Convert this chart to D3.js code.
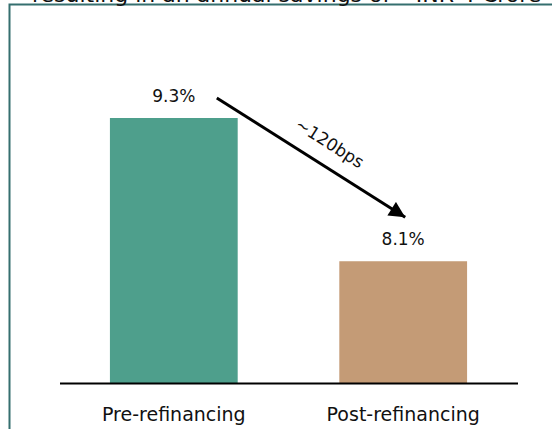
<!DOCTYPE html>
<html>
<head>
<meta charset="utf-8">
<script src="https://cdn.jsdelivr.net/npm/d3@7"></script>
<style>
  html, body { margin: 0; padding: 0; background: #fff; }
  svg { display: block; }
  text { font-family: "DejaVu Sans", Verdana, sans-serif; fill: #111; }
</style>
</head>
<body>
<svg id="chart" width="552" height="429"></svg>
<script>
// Effective interest rate before and after refinancing
const categories = ["Pre-refinancing", "Post-refinancing"];
const rates = [9.3, 8.1];
const valueLabels = ["9.3%", "8.1%"];
const barColors = ["#4e9f8c", "#c49b76"];
const changeLabel = "~120bps";
const headline = "resulting in an annual savings of ~INR 4 Crore";

const W = 552, H = 429;
const baseY = 383;
const svg = d3.select("#chart");

// Panel frame (top and left edges visible)
svg.append("path")
  .attr("d", `M9.5,${H} V4.5 H${W}`)
  .attr("fill", "none")
  .attr("stroke", "#356f6f")
  .attr("stroke-width", 2);

// Headline running above the frame
svg.append("text")
  .attr("x", 32).attr("y", 2)
  .attr("font-size", 22)
  .text(headline);

const x = d3.scaleBand()
  .domain(categories)
  .range([59, 518])
  .paddingInner(0.443)
  .paddingOuter(0.222);

const y = d3.scaleLinear()
  .domain([7.08, 9.3])
  .range([baseY, 118]);

// Bars
svg.selectAll("rect.bar")
  .data(categories)
  .join("rect")
  .attr("class", "bar")
  .attr("x", d => x(d))
  .attr("width", x.bandwidth())
  .attr("y", (d, i) => y(rates[i]))
  .attr("height", (d, i) => baseY - y(rates[i]))
  .attr("fill", (d, i) => barColors[i]);

// Baseline spanning the plot
svg.append("line")
  .attr("x1", 60).attr("x2", 518)
  .attr("y1", baseY + 0.5).attr("y2", baseY + 0.5)
  .attr("stroke", "#000").attr("stroke-width", 2);

// Category labels
const xAxis = d3.axisBottom(x).tickSize(0).tickPadding(0);
const axisG = svg.append("g").attr("transform", `translate(0,${baseY})`).call(xAxis);
axisG.select(".domain").remove();
axisG.selectAll("text")
  .attr("y", 0).attr("dy", null)
  .attr("transform", "translate(0,38)")
  .attr("font-size", 19)
  .attr("font-family", "DejaVu Sans, Verdana, sans-serif")
  .attr("fill", "#111");

// Value labels
svg.selectAll("text.val")
  .data(categories)
  .join("text")
  .attr("class", "val")
  .attr("x", d => x(d) + x.bandwidth() / 2)
  .attr("y", (d, i) => y(rates[i]) - 16)
  .attr("text-anchor", "middle")
  .attr("font-size", 17)
  .text((d, i) => valueLabels[i]);

// Change arrow between the two rates
svg.append("defs").append("marker")
  .attr("id", "head")
  .attr("viewBox", "0 0 10 10")
  .attr("refX", 10).attr("refY", 5)
  .attr("markerWidth", 17).attr("markerHeight", 16)
  .attr("markerUnits", "userSpaceOnUse")
  .attr("orient", "auto")
  .append("path").attr("d", "M0,0 L10,5 L0,10 Z").attr("fill", "#000");

const x1 = x(categories[0]) + x.bandwidth() / 2 + 43;
const y1 = y(rates[0]) - 20;
const x2 = x(categories[1]) + x.bandwidth() / 2 + 2;
const y2 = y(rates[1]) - 44;

svg.append("line")
  .attr("x1", x1).attr("y1", y1)
  .attr("x2", x2).attr("y2", y2)
  .attr("stroke", "#000").attr("stroke-width", 3)
  .attr("marker-end", "url(#head)");

const ang = Math.atan2(y2 - y1, x2 - x1) * 180 / Math.PI;
const mx = (x1 + x2) / 2 + 14, my = (y1 + y2) / 2 - 7;
svg.append("text")
  .attr("transform", `translate(${mx},${my}) rotate(${ang})`)
  .attr("text-anchor", "middle")
  .attr("font-size", 17)
  .attr("dy", -3)
  .text(changeLabel);
</script>
</body>
</html>
